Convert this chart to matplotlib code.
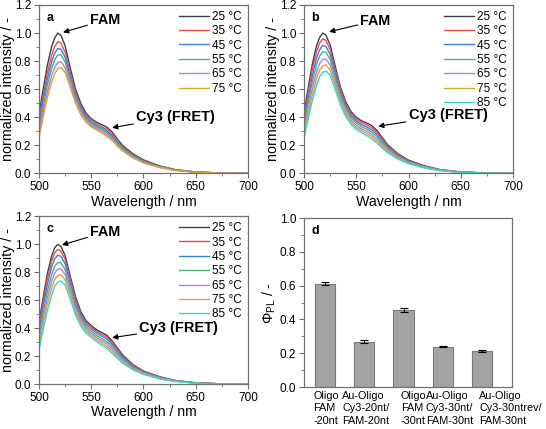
import numpy as np
import matplotlib
matplotlib.use('Agg')
import matplotlib.pyplot as plt
import matplotlib.transforms as mtransforms
from matplotlib.ticker import MultipleLocator

###############################################################################
###                                DATA
###############################################################################
wl = [500, 504, 508, 512, 515, 518, 521, 525, 530, 535, 540, 545, 550,
      555, 560, 565, 570, 575, 580, 590, 600, 615, 630, 650, 675, 700]

temps_a = ['25 °C', '35 °C', '45 °C', '55 °C', '65 °C', '75 °C']
temps_bc = ['25 °C', '35 °C', '45 °C', '55 °C', '65 °C', '75 °C', '85 °C']

# panel a : normalized emission spectra
spec_a = [
    [0.42, 0.60, 0.77, 0.90, 0.965, 1.00, 0.985, 0.91, 0.75, 0.60, 0.50, 0.43, 0.39,
     0.365, 0.348, 0.33, 0.295, 0.245, 0.20, 0.14, 0.097, 0.055, 0.028, 0.011, 0.003, 0.0],
    [0.38, 0.551, 0.714, 0.839, 0.903, 0.938, 0.929, 0.863, 0.716, 0.575, 0.48, 0.414, 0.376,
     0.352, 0.334, 0.314, 0.28, 0.233, 0.19, 0.133, 0.092, 0.052, 0.027, 0.011, 0.003, 0.0],
    [0.349, 0.514, 0.671, 0.792, 0.855, 0.89, 0.886, 0.828, 0.69, 0.557, 0.466, 0.402, 0.365,
     0.341, 0.323, 0.302, 0.269, 0.223, 0.183, 0.127, 0.088, 0.05, 0.025, 0.010, 0.003, 0.0],
    [0.319, 0.478, 0.63, 0.747, 0.809, 0.844, 0.845, 0.794, 0.665, 0.539, 0.451, 0.39, 0.355,
     0.331, 0.313, 0.29, 0.258, 0.214, 0.176, 0.122, 0.084, 0.048, 0.024, 0.010, 0.002, 0.0],
    [0.285, 0.436, 0.581, 0.695, 0.756, 0.791, 0.796, 0.754, 0.635, 0.518, 0.434, 0.377, 0.342,
     0.32, 0.30, 0.277, 0.246, 0.204, 0.167, 0.115, 0.079, 0.045, 0.023, 0.009, 0.002, 0.0],
    [0.255, 0.40, 0.54, 0.65, 0.71, 0.745, 0.755, 0.72, 0.61, 0.50, 0.42, 0.365, 0.332,
     0.31, 0.29, 0.265, 0.235, 0.195, 0.16, 0.11, 0.075, 0.043, 0.022, 0.009, 0.002, 0.0],
]

# panel b
spec_b = [
    [0.43, 0.61, 0.78, 0.91, 0.97, 1.00, 0.985, 0.915, 0.76, 0.61, 0.51, 0.44, 0.40,
     0.375, 0.36, 0.34, 0.305, 0.255, 0.205, 0.14, 0.095, 0.055, 0.028, 0.011, 0.003, 0.0],
    [0.403, 0.577, 0.742, 0.869, 0.929, 0.959, 0.947, 0.883, 0.736, 0.591, 0.494, 0.427, 0.387,
     0.362, 0.347, 0.326, 0.292, 0.244, 0.197, 0.134, 0.091, 0.053, 0.027, 0.011, 0.003, 0.0],
    [0.373, 0.541, 0.698, 0.822, 0.882, 0.912, 0.905, 0.847, 0.708, 0.571, 0.477, 0.412, 0.373,
     0.348, 0.332, 0.31, 0.277, 0.231, 0.187, 0.128, 0.087, 0.05, 0.025, 0.010, 0.003, 0.0],
    [0.344, 0.504, 0.655, 0.776, 0.836, 0.866, 0.863, 0.812, 0.681, 0.55, 0.46, 0.397, 0.359,
     0.334, 0.317, 0.294, 0.262, 0.219, 0.178, 0.122, 0.083, 0.048, 0.024, 0.010, 0.002, 0.0],
    [0.31, 0.463, 0.607, 0.723, 0.783, 0.813, 0.815, 0.772, 0.65, 0.527, 0.44, 0.38, 0.343,
     0.318, 0.30, 0.277, 0.245, 0.205, 0.167, 0.115, 0.078, 0.045, 0.023, 0.009, 0.002, 0.0],
    [0.28, 0.427, 0.563, 0.677, 0.737, 0.767, 0.773, 0.736, 0.623, 0.506, 0.423, 0.365, 0.329,
     0.304, 0.285, 0.261, 0.23, 0.193, 0.158, 0.108, 0.074, 0.043, 0.021, 0.008, 0.002, 0.0],
    [0.25, 0.39, 0.52, 0.63, 0.69, 0.72, 0.73, 0.70, 0.595, 0.485, 0.405, 0.35, 0.315,
     0.29, 0.27, 0.245, 0.215, 0.18, 0.148, 0.102, 0.07, 0.04, 0.02, 0.008, 0.002, 0.0],
]

# panel c
spec_c = [
    [0.44, 0.62, 0.79, 0.915, 0.975, 1.00, 0.985, 0.92, 0.77, 0.625, 0.52, 0.455, 0.42,
     0.39, 0.37, 0.35, 0.31, 0.26, 0.21, 0.14, 0.095, 0.055, 0.028, 0.011, 0.003, 0.0],
    [0.414, 0.589, 0.754, 0.877, 0.938, 0.964, 0.952, 0.892, 0.748, 0.607, 0.506, 0.443, 0.409,
     0.379, 0.358, 0.337, 0.298, 0.25, 0.202, 0.135, 0.092, 0.053, 0.027, 0.011, 0.003, 0.0],
    [0.384, 0.554, 0.714, 0.834, 0.896, 0.922, 0.914, 0.86, 0.722, 0.588, 0.49, 0.429, 0.396,
     0.366, 0.344, 0.323, 0.285, 0.238, 0.193, 0.129, 0.088, 0.051, 0.026, 0.010, 0.003, 0.0],
    [0.346, 0.51, 0.663, 0.781, 0.843, 0.87, 0.867, 0.819, 0.691, 0.563, 0.47, 0.412, 0.379,
     0.349, 0.327, 0.304, 0.268, 0.224, 0.181, 0.122, 0.083, 0.048, 0.024, 0.010, 0.002, 0.0],
    [0.312, 0.47, 0.617, 0.732, 0.795, 0.823, 0.825, 0.783, 0.662, 0.54, 0.451, 0.396, 0.364,
     0.334, 0.311, 0.288, 0.252, 0.211, 0.171, 0.116, 0.079, 0.045, 0.023, 0.009, 0.002, 0.0],
    [0.279, 0.43, 0.571, 0.683, 0.748, 0.777, 0.782, 0.746, 0.634, 0.517, 0.433, 0.381, 0.35,
     0.32, 0.296, 0.271, 0.237, 0.198, 0.16, 0.109, 0.074, 0.043, 0.021, 0.008, 0.002, 0.0],
    [0.245, 0.39, 0.525, 0.635, 0.70, 0.73, 0.74, 0.71, 0.605, 0.495, 0.415, 0.365, 0.335,
     0.305, 0.28, 0.255, 0.222, 0.185, 0.15, 0.103, 0.07, 0.04, 0.02, 0.008, 0.002, 0.0],
]

# panel d : quantum yields
samples = ['Oligo\nFAM\n-20nt', 'Au-Oligo\nCy3-20nt/\nFAM-20nt', 'Oligo\nFAM\n-30nt',
           'Au-Oligo\nCy3-30nt/\nFAM-30nt', 'Au-Oligo\nCy3-30ntrev/\nFAM-30nt']
phi_pl = [0.612, 0.268, 0.455, 0.238, 0.213]
phi_err = [0.010, 0.008, 0.012, 0.004, 0.005]

colors = ['#404040', '#f24a4a', '#3d7fe0', '#4cae7a', '#b87ae8', '#e0a526', '#2ed6d6']

###############################################################################
###                                STYLE
###############################################################################
plt.rcParams['font.family'] = ['Liberation Sans', 'DejaVu Sans']
plt.rcParams['font.size'] = 8.5
plt.rcParams['mathtext.fontset'] = 'custom'
plt.rcParams['mathtext.rm'] = 'Liberation Sans'
plt.rcParams['mathtext.it'] = 'Liberation Sans:italic'
plt.rcParams['axes.edgecolor'] = '#707070'
plt.rcParams['axes.linewidth'] = 0.9
plt.rcParams['xtick.color'] = '#707070'
plt.rcParams['ytick.color'] = '#707070'
plt.rcParams['xtick.labelcolor'] = 'black'
plt.rcParams['ytick.labelcolor'] = 'black'

fig = plt.figure(figsize=(5.46, 4.29), dpi=100)
ax_a = fig.add_axes([0.0714, 0.5956, 0.3828, 0.3928])
ax_b = fig.add_axes([0.5568, 0.5956, 0.3828, 0.3928])
ax_c = fig.add_axes([0.0714, 0.1042, 0.3828, 0.3916])
ax_d = fig.add_axes([0.5568, 0.0979, 0.3810, 0.3939])


def spectra_panel(ax, spec, temps, letter, fam_tip, fam_txt, cy3_tip, cy3_txt):
    for k in range(len(spec)):
        ax.plot(wl, spec[k], color=colors[k], lw=1.0, label=temps[k])
    ax.set_xlim(500, 700)
    ax.set_ylim(0, 1.2)
    ax.xaxis.set_major_locator(MultipleLocator(50))
    ax.xaxis.set_minor_locator(MultipleLocator(25))
    ax.yaxis.set_major_locator(MultipleLocator(0.2))
    ax.yaxis.set_minor_locator(MultipleLocator(0.1))
    ax.yaxis.set_major_formatter(plt.FormatStrFormatter('%.1f'))
    ax.tick_params(which='major', direction='out', length=3.5, width=0.8, pad=2)
    ax.tick_params(which='minor', direction='out', length=2, width=0.6)
    ax.set_xlabel('Wavelength / nm', fontsize=10.2, labelpad=1)
    ax.set_ylabel('normalized intensity / -', fontsize=10.3, labelpad=0)
    ax.legend(loc='upper right', frameon=False, fontsize=8.5, handlelength=2.5,
              handletextpad=0.3, labelspacing=0.2, borderaxespad=0.3,
              borderpad=0.2)
    ax.text(0.035, 0.96, letter, transform=ax.transAxes, fontweight='bold',
            fontsize=9, va='top', ha='left')
    arr = dict(arrowstyle='-|>', color='black', lw=0.8, mutation_scale=8,
               shrinkA=0, shrinkB=0)
    ax.annotate('FAM', xy=fam_tip, xytext=fam_txt, fontsize=10.3, fontweight='bold',
                va='center', ha='left', arrowprops=arr)
    ax.annotate('Cy3 (FRET)', xy=cy3_tip, xytext=cy3_txt, fontsize=10.5,
                fontweight='bold', va='center', ha='left', arrowprops=arr)


spectra_panel(ax_a, spec_a, temps_a, 'a', (523, 1.005), (549, 1.093),
              (570, 0.326), (593, 0.405))
spectra_panel(ax_b, spec_b, temps_bc, 'b', (524, 1.009), (554, 1.088),
              (571, 0.336), (600, 0.415))
spectra_panel(ax_c, spec_c, temps_bc, 'c', (522, 0.995), (549, 1.088),
              (570, 0.333), (596, 0.404))

###############################################################################
###                              BAR PANEL d
###############################################################################
pos = np.arange(1, len(samples) + 1)
ax_d.bar(pos, phi_pl, width=0.51, color='#a3a3a3', edgecolor='#7a7a7a', lw=0.8)
ax_d.errorbar(pos, phi_pl, yerr=phi_err, fmt='none', ecolor='black', elinewidth=0.8,
              capsize=3, capthick=0.8)
ax_d.set_xlim(0.47, 5.76)
ax_d.set_ylim(0, 1.0)
ax_d.set_xticks(pos)
ax_d.set_xticklabels([])
ax_d.yaxis.set_major_locator(MultipleLocator(0.2))
ax_d.yaxis.set_minor_locator(MultipleLocator(0.1))
ax_d.yaxis.set_major_formatter(plt.FormatStrFormatter('%.1f'))
ax_d.tick_params(axis='x', length=0)
ax_d.tick_params(axis='y', which='major', direction='out', length=3.5, width=0.8, pad=2)
ax_d.tick_params(axis='y', which='minor', direction='out', length=2, width=0.6)
ax_d.set_ylabel(r'$\mathit{Φ}_{\mathrm{PL}}$ / -', fontsize=10.3, labelpad=1)
ax_d.text(0.035, 0.96, 'd', transform=ax_d.transAxes, fontweight='bold',
          fontsize=9, va='top', ha='left')

# sample labels, left-aligned blocks as in the original layout
label_x = [0.71, 1.44, 2.93, 3.57, 4.93]
trans = mtransforms.blended_transform_factory(ax_d.transData, ax_d.transAxes)
for k in range(len(samples)):
    ax_d.text(label_x[k], -0.025, samples[k], transform=trans, ha='left', va='top',
              fontsize=7.8, linespacing=1.28, clip_on=False)

plt.savefig('out.png', dpi=100)
